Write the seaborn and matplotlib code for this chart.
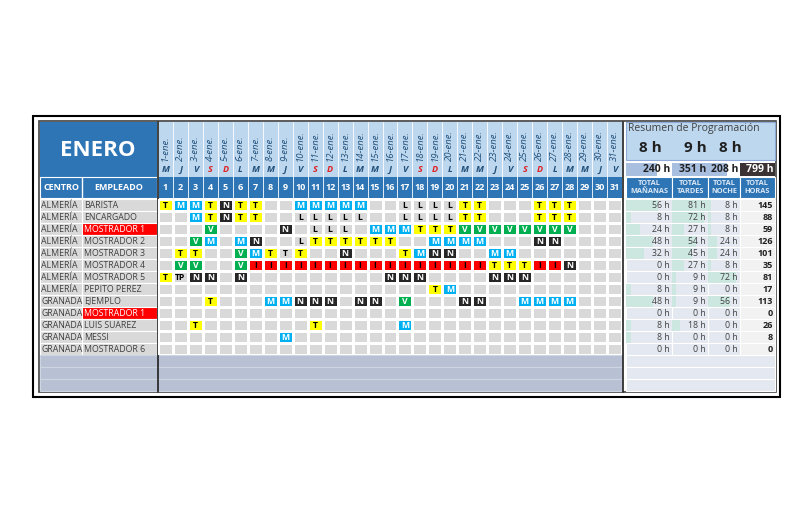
import numpy as np
import pandas as pd
import matplotlib
matplotlib.use("Agg")
import matplotlib.pyplot as plt
from matplotlib.colors import ListedColormap
from matplotlib.patches import Rectangle
import seaborn as sns

# ========== DATA ========== #
DAYS = list(range(1, 32))
DAY_LETTERS = ["M", "J", "V", "S", "D", "L", "M"] * 5
DAY_LETTERS = DAY_LETTERS[:31]
CENTROS = ["ALMERÍA"] * 8 + ["GRANADA"] * 5
EMPLEADOS = ["BARISTA", "ENCARGADO", "MOSTRADOR 1", "MOSTRADOR 2", "MOSTRADOR 3",
             "MOSTRADOR 4", "MOSTRADOR 5", "PEPITO PEREZ", "EJEMPLO", "MOSTRADOR 1",
             "LUIS SUAREZ", "MESSI", "MOSTRADOR 6"]
RED_NAMES = [2, 9]

SHIFTS = [
    {1: "T", 2: "M", 3: "M", 4: "T", 5: "N", 6: "T", 7: "T", 10: "M", 11: "M", 12: "M", 13: "M", 14: "M",
     17: "L", 18: "L", 19: "L", 20: "L", 21: "T", 22: "T", 26: "T", 27: "T", 28: "T"},
    {3: "M", 4: "T", 5: "N", 6: "T", 7: "T", 10: "L", 11: "L", 12: "L", 13: "L", 14: "L",
     17: "L", 18: "L", 19: "L", 20: "L", 21: "T", 22: "T", 26: "T", 27: "T", 28: "T"},
    {4: "V", 9: "N", 11: "L", 12: "L", 13: "L", 15: "M", 16: "M", 17: "M", 18: "T", 19: "T", 20: "T",
     21: "V", 22: "V", 23: "V", 24: "V", 25: "V", 26: "V", 27: "V", 28: "V"},
    {3: "V", 4: "M", 6: "M", 7: "N", 10: "L", 11: "T", 12: "T", 13: "T", 14: "T", 15: "T", 16: "T",
     19: "M", 20: "M", 21: "M", 22: "M", 26: "N", 27: "N"},
    {2: "T", 3: "T", 6: "V", 7: "M", 8: "T", 9: "t", 10: "T", 13: "N", 17: "T", 18: "M", 19: "N", 20: "N",
     23: "M", 24: "M"},
    {2: "V", 3: "V", 6: "V", 7: "I", 8: "I", 9: "I", 10: "I", 11: "I", 12: "I", 13: "I", 14: "I", 15: "I",
     16: "I", 17: "I", 18: "I", 19: "I", 20: "I", 21: "I", 22: "I", 23: "T", 24: "T", 25: "T",
     26: "I", 27: "I", 28: "N"},
    {1: "T", 2: "TP", 3: "N", 4: "N", 6: "N", 16: "N", 17: "N", 18: "N", 23: "N", 24: "N", 25: "N"},
    {19: "T", 20: "M"},
    {4: "T", 8: "M", 9: "M", 10: "N", 11: "N", 12: "N", 14: "N", 15: "N", 17: "V", 21: "N", 22: "N",
     25: "M", 26: "M", 27: "M", 28: "M"},
    {},
    {3: "T", 11: "T", 17: "M"},
    {9: "M"},
    {},
]

TOT_M = [56, 8, 24, 48, 32, 0, 0, 8, 48, 0, 8, 8, 0]
TOT_T = [81, 72, 27, 54, 45, 27, 9, 9, 9, 0, 18, 0, 0]
TOT_N = [8, 8, 8, 24, 24, 8, 72, 0, 56, 0, 0, 0, 0]
TOT_H = [145, 88, 59, 126, 101, 35, 81, 17, 113, 0, 26, 8, 0]
SUMMARY_HOURS = ["8 h", "9 h", "8 h"]
SUMMARY_TOTALS = [240, 351, 208, 799]

# ========== STYLE ========== #
CODE_COLORS = {"": "#d9d9d9", "M": "#00b0f0", "T": "#ffff00", "N": "#262626", "V": "#00b050",
               "I": "#ff0000", "L": "#d9d9d9", "t": "#d9d9d9", "TP": "#d9d9d9"}
TEXT_COLORS = {"M": "white", "T": "black", "N": "white", "V": "white", "I": "black",
               "L": "black", "t": "black", "TP": "black", "": "black"}
BLUE = "#2e75b6"
LIGHT = "#bdd7ee"
FONT = ["Open Sans", "DejaVu Sans"]

sns.set_theme(style="white")
plt.rcParams["font.family"] = FONT

W, H = 800, 514
fig = plt.figure(figsize=(8, 5.14), dpi=100)
bg = fig.add_axes([0, 0, 1, 1])
bg.set_xlim(0, W)
bg.set_ylim(H, 0)
bg.axis("off")


def box(x0, y0, x1, y1, fc, ec="none", lw=0.8, z=1):
    bg.add_patch(Rectangle((x0, y0), x1 - x0, y1 - y0, facecolor=fc, edgecolor=ec, lw=lw, zorder=z))


# grid geometry
GX0, GX1 = 158, 622
GY0 = 199
RH = 12.0
CW = (GX1 - GX0) / 31
n = len(EMPLEADOS)
GY1 = GY0 + n * RH

# outer frame
box(33, 116, 780, 397, "white", ec="black", lw=1.5)
box(39, 121, 776, 392, "white", ec="#404040", lw=1.2)

# title and header blocks
box(40, 122, 157, 177, BLUE)
bg.text(98, 151, "ENERO", color="white", fontsize=16, fontweight="bold", ha="center", va="center")
box(40, 177, 157, 198, BLUE, ec="white")
bg.text(61, 188, "CENTRO", color="white", fontsize=6.5, fontweight="bold", ha="center", va="center")
bg.text(119, 188, "EMPLEADO", color="white", fontsize=6.5, fontweight="bold", ha="center", va="center")
bg.plot([82, 82], [177, 198], color="white", lw=1)

box(GX0, 122, GX1, 162, LIGHT)
box(GX0, 162, GX1, 177, LIGHT)
box(GX0, 177, GX1, 198, BLUE)
for i, d in enumerate(DAYS):
    cx = GX0 + (i + 0.5) * CW
    bg.text(cx, 161, f"{d}-ene.", rotation=90, fontsize=6.8, style="italic", color="#1f4e79",
            ha="center", va="bottom")
    lc = "#e02020" if DAY_LETTERS[i] in ("S", "D") else "#1f4e79"
    bg.text(cx, 170, DAY_LETTERS[i], fontsize=6.5, fontweight="bold", style="italic", color=lc,
            ha="center", va="center")
    bg.text(cx, 188, str(d), fontsize=6.5, fontweight="bold", color="white", ha="center", va="center")
    bg.plot([GX0 + i * CW] * 2, [122, 198], color="white", lw=0.6)

# name columns
for r in range(n):
    y = GY0 + r * RH
    box(40, y, 82, y + RH, "#d9d9d9", ec="white")
    box(82, y, 157, y + RH, "#ff0000" if r in RED_NAMES else "#d9d9d9", ec="white")
    bg.text(41, y + RH / 2, CENTROS[r], fontsize=6.3, color="#404040", va="center")
    bg.text(84, y + RH / 2, EMPLEADOS[r], fontsize=6.3, va="center",
            color="white" if r in RED_NAMES else "#404040")
# blank trailing rows
for k in range(3):
    y = GY1 + k * RH
    box(40, y, 622, y + RH, "#b8c1d4", ec="#cdd4e2")
    box(626, y, 775, y + RH, "#e4e8f0", ec="white")

# ========== SCHEDULE HEATMAP ========== #
codes = list(CODE_COLORS.keys())
labels = np.array([[SHIFTS[r].get(d, "") for d in DAYS] for r in range(n)], dtype=object)
vals = np.vectorize(lambda c: codes.index(c))(labels)
show = np.vectorize(lambda c: "T" if c == "t" else c)(labels)
df = pd.DataFrame(vals, index=EMPLEADOS, columns=DAYS)

hax = fig.add_axes([GX0 / W, 1 - GY1 / H, (GX1 - GX0) / W, (GY1 - GY0) / H])
sns.heatmap(df, ax=hax, cmap=ListedColormap([CODE_COLORS[c] for c in codes]), vmin=-0.5,
            vmax=len(codes) - 0.5, cbar=False, annot=show, fmt="", linewidths=1.0, linecolor="white",
            annot_kws={"fontsize": 6.2, "fontweight": "bold"}, xticklabels=False, yticklabels=False)
for t, c in zip(hax.texts, labels.ravel()):
    t.set_color(TEXT_COLORS[c])
hax.set_xlabel("")
hax.set_ylabel("")

bg.plot([157.5, 157.5], [122, 392], color="#202020", lw=1.2, zorder=5)
bg.plot([623, 623], [122, 392], color="#202020", lw=1.2, zorder=5)

# ========== SUMMARY PANEL ========== #
box(626, 122, 775, 160, LIGHT, ec="#8eaadb")
bg.text(628, 129, "Resumen de Programación", fontsize=7.5, color="#404040", va="center")
for x, s in zip([650, 695, 730], SUMMARY_HOURS):
    bg.text(x, 148, s, fontsize=11, fontweight="bold", color="#202020", ha="center", va="center")

cols = [(626, 672), (672, 708), (708, 740), (740, 775)]
for (x0, x1), v, k in zip(cols, SUMMARY_TOTALS, range(4)):
    if k == 3:
        box(x0, 163, x1, 176, "#3b3333")
        tc = "white"
    else:
        box(x0, 163, x1, 176, "white")
        frac = v / max(SUMMARY_TOTALS[:3])
        box(x0, 163, x0 + (x1 - x0) * frac, 176, "#a9bfe0")
        tc = "#202020"
    bg.text(x1 - 2, 169.5, f"{v} h", fontsize=7.5, fontweight="bold", color=tc, ha="right", va="center")

heads = [("TOTAL", "MAÑANAS"), ("TOTAL", "TARDES"), ("TOTAL", "NOCHE"), ("TOTAL", "HORAS")]
for (x0, x1), (a, b) in zip(cols, heads):
    box(x0, 177, x1, 198, BLUE, ec="white")
    bg.text((x0 + x1) / 2, 187.5, f"{a}\n{b}", fontsize=5.3, fontweight="bold", color="#dbe8f5",
            ha="center", va="center", linespacing=1.1)

series = [TOT_M, TOT_T, TOT_N]
for r in range(n):
    y = GY0 + r * RH
    for (x0, x1), s in zip(cols[:3], series):
        box(x0, y, x1, y + RH, "#e4e8f0", ec="white")
        frac = s[r] / max(max(x) for x in series)
        box(x0, y + 0.5, x0 + (x1 - x0) * frac, y + RH - 0.5, "#cce6e0")
        bg.text(x1 - 2, y + RH / 2, f"{s[r]} h", fontsize=6.3, color="#404040", ha="right", va="center")
    x0, x1 = cols[3]
    box(x0, y, x1, y + RH, "#f2f2f2", ec="white")
    bg.text(x1 - 2, y + RH / 2, str(TOT_H[r]), fontsize=6.5, fontweight="bold", color="#202020",
            ha="right", va="center")

fig.savefig("out.png", dpi=100)
